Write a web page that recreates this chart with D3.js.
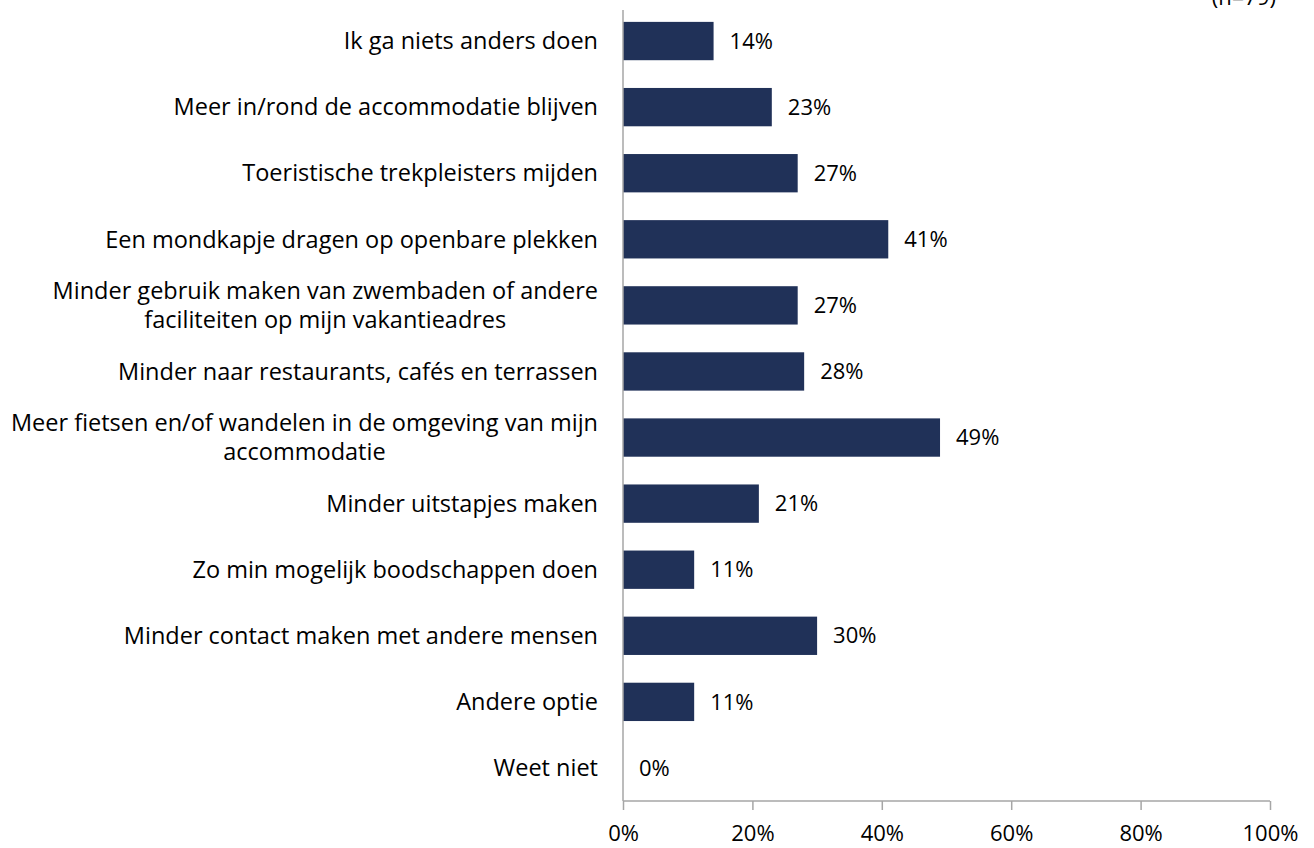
<!DOCTYPE html>
<html>
<head>
<meta charset="utf-8">
<script src="https://cdn.jsdelivr.net/npm/d3@7"></script>
<style>
body { margin: 0; background: #fff; }
text { font-family: "Open Sans", Lato, sans-serif; fill: #000; }
</style>
</head>
<body>
<div class="container"></div>
<script>
// chart data
const categories = [
  ["Ik ga niets anders doen"],
  ["Meer in/rond de accommodatie blijven"],
  ["Toeristische trekpleisters mijden"],
  ["Een mondkapje dragen op openbare plekken"],
  ["Minder gebruik maken van zwembaden of andere", "faciliteiten op mijn vakantieadres"],
  ["Minder naar restaurants, cafés en terrassen"],
  ["Meer fietsen en/of wandelen in de omgeving van mijn", "accommodatie"],
  ["Minder uitstapjes maken"],
  ["Zo min mogelijk boodschappen doen"],
  ["Minder contact maken met andere mensen"],
  ["Andere optie"],
  ["Weet niet"]
];
const values = [14, 23, 27, 41, 27, 28, 49, 21, 11, 30, 11, 0];
const xTicks = [0, 20, 40, 60, 80, 100];
const sampleNote = "(n=79)";

const w = 1314;
const h = 848;
const plotLeft = 623, plotRight = 1270, plotTop = 8, plotBottom = 801;
const catFont = "23.5px";
const numFont = "22px";

const svg = d3.select(".container")
  .append("svg")
  .attr("width", w)
  .attr("height", h);

const xScale = d3.scaleLinear().domain([0, 100]).range([plotLeft, plotRight]);
const yScale = d3.scaleBand()
  .domain(d3.range(categories.length))
  .range([plotTop, plotBottom])
  .paddingInner(0.42)
  .paddingOuter(0.21);

// bars
svg.selectAll("rect.bar")
  .data(values)
  .enter()
  .append("rect")
  .attr("class", "bar")
  .attr("x", xScale(0))
  .attr("y", (d, i) => yScale(i))
  .attr("width", d => xScale(d) - xScale(0))
  .attr("height", yScale.bandwidth())
  .attr("fill", "#203158");

// value labels
svg.selectAll("text.val")
  .data(values)
  .enter()
  .append("text")
  .attr("class", "val")
  .attr("x", d => xScale(d) + 16)
  .attr("y", (d, i) => yScale(i) + yScale.bandwidth() / 2)
  .attr("dy", "0.35em")
  .style("font-size", numFont)
  .text(d => d + "%");

// category labels
const labelX = plotLeft - 25;
const cat = svg.selectAll("text.cat")
  .data(categories)
  .enter()
  .append("text")
  .attr("class", "cat")
  .attr("x", labelX)
  .attr("y", (d, i) => yScale(i) + yScale.bandwidth() / 2)
  .style("font-size", catFont)
  .style("text-anchor", d => d.length > 1 ? "middle" : "end");

cat.each(function(d) {
  const t = d3.select(this);
  const n = d.length;
  const cy = +t.attr("y");
  d.forEach((line, j) => {
    t.append("tspan")
      .attr("x", labelX)
      .attr("y", cy + (j - (n - 1) / 2) * 29)
      .attr("dy", "0.35em")
      .text(line);
  });
  if (n > 1) {
    // centre wrapped lines on the widest one, right edge at the label column
    const wid = this.getBBox().width;
    t.selectAll("tspan").attr("x", labelX - wid / 2);
  }
});

// x axis
const xAxis = d3.axisBottom(xScale)
  .tickValues(xTicks)
  .tickSize(9)
  .tickFormat(d => d + "%");
const gx = svg.append("g")
  .attr("transform", `translate(0,${plotBottom})`)
  .call(xAxis);
gx.select(".domain").attr("stroke", "#a6a6a6").attr("stroke-width", 1.5)
  .attr("d", `M${plotLeft},0H${plotRight}`);
gx.selectAll(".tick line").attr("stroke", "#a6a6a6").attr("stroke-width", 1.5);
gx.selectAll(".tick text")
  .attr("y", 32)
  .attr("dy", "0.35em")
  .style("font-size", numFont)
  .style("font-family", "'Open Sans', Lato, sans-serif")
  .attr("fill", "#000");

// y axis line
svg.append("line")
  .attr("x1", plotLeft).attr("x2", plotLeft)
  .attr("y1", 10).attr("y2", plotBottom)
  .attr("stroke", "#a6a6a6")
  .attr("stroke-width", 1.5);

// sample note (cut off at top, as in the source)
svg.append("text")
  .attr("x", 1276)
  .attr("y", 5)
  .style("font-size", numFont)
  .style("text-anchor", "end")
  .text(sampleNote);
</script>
</body>
</html>
